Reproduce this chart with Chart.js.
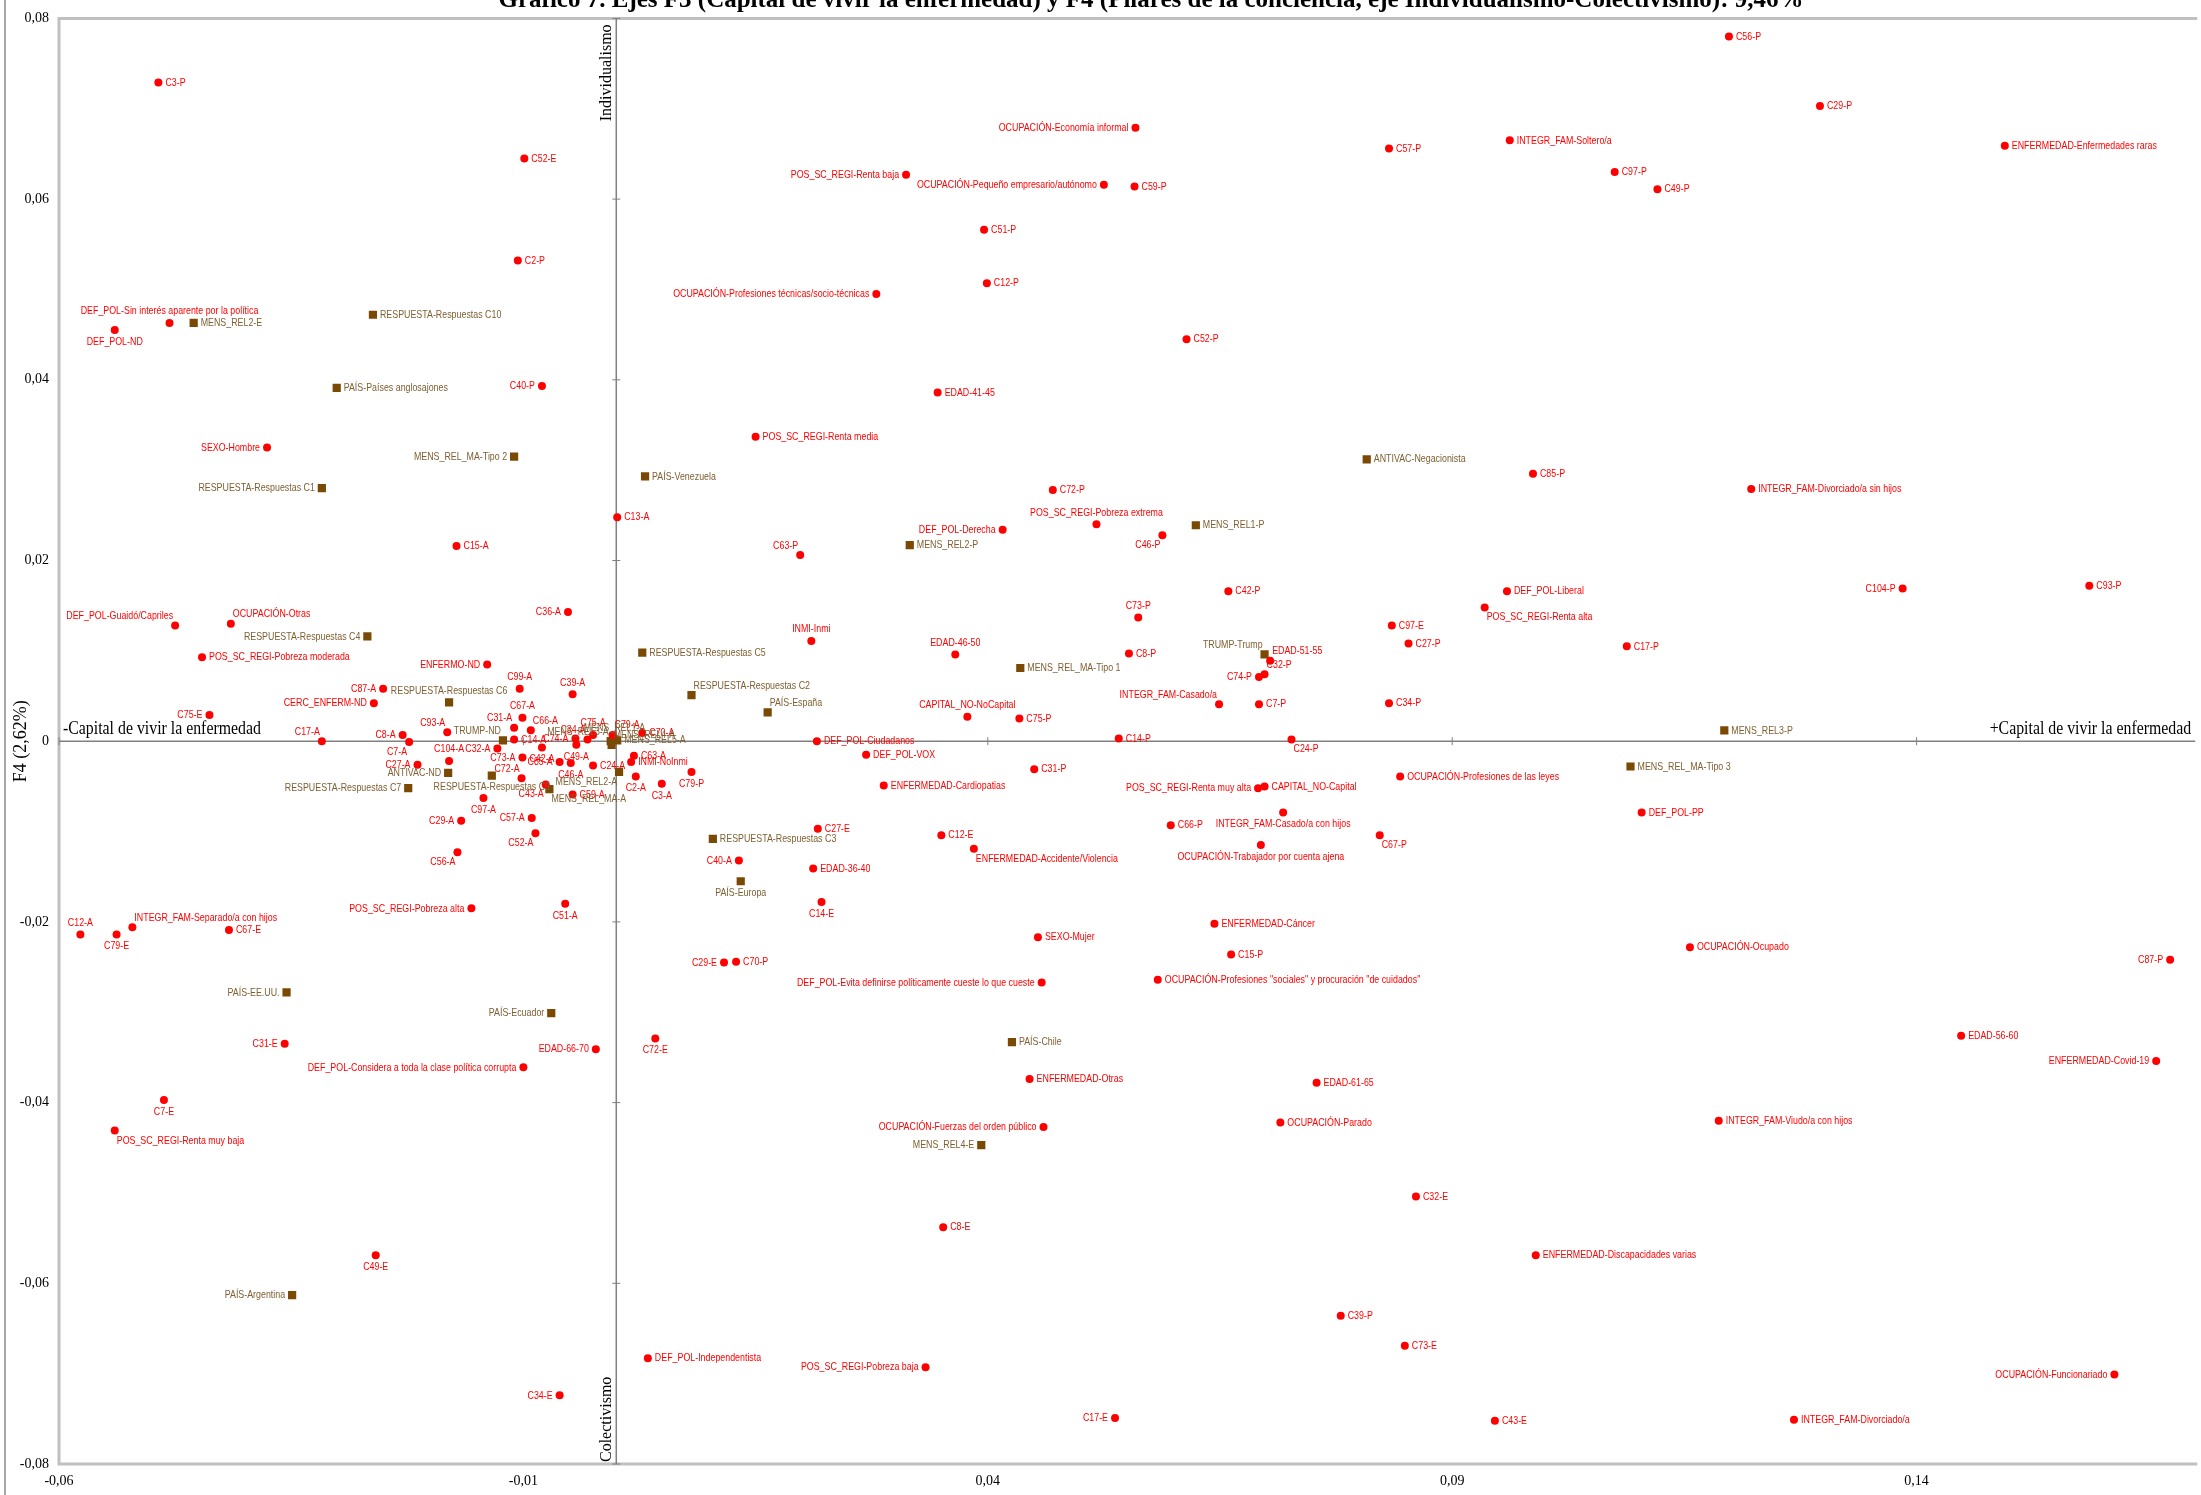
<!DOCTYPE html>
<html>
<head>
<meta charset="utf-8">
<script src="https://cdn.jsdelivr.net/npm/chart.js@4.4.1/dist/chart.umd.min.js"></script>
<style>
  html, body { margin: 0; padding: 0; background: #fff; }
  #wrap { width: 2201px; height: 1495px; }
</style>
</head>
<body>
<div id="wrap"><canvas id="chart" width="2201" height="1495"></canvas></div>
<script>
const title = 'Gráfico 7. Ejes F3 (Capital de vivir la enfermedad) y F4 (Pilares de la conciencia, eje Individualismo-Colectivismo): 9,46%';
const xTicks = [-0.06, -0.01, 0.04, 0.09, 0.14];
const yTicks = [-0.08, -0.06, -0.04, -0.02, 0, 0.02, 0.04, 0.06, 0.08];

// modalidades activas (círculos rojos)
const redNames = [
  'C3-P', 'C52-E', 'C2-P', 'DEF_POL-Sin interés aparente por la política', 'DEF_POL-ND',
  'C40-P', 'SEXO-Hombre', 'C15-A', 'C36-A', 'DEF_POL-Guaidó/Capriles',
  'OCUPACIÓN-Otras', 'POS_SC_REGI-Pobreza moderada', 'ENFERMO-ND', 'C99-A', 'C87-A',
  'CERC_ENFERM-ND', 'C75-E', 'C17-A', 'C39-A', 'C67-A',
  'C31-A', 'C66-A', 'C14-A', 'C8-A', 'C7-A',
  'C93-A', 'C104-A', 'C27-A', 'C32-A', 'C73-A',
  'C72-A', 'C43-A', 'C59-A', 'C97-A', 'C42-A',
  'C74-A', 'C49-A', 'C34-A', 'C75-A', 'C79-A',
  'C70-A', 'C85-A', 'C46-A', 'C24-A', 'C63-A',
  'INMI-NoInmi', 'C2-A', 'C3-A', 'C79-P', 'C13-A',
  'INMI-Inmi', 'EDAD-46-50', 'C73-P', 'C8-P', 'CAPITAL_NO-NoCapital',
  'C75-P', 'INTEGR_FAM-Casado/a', 'EDAD-51-55', 'C74-P', 'C32-P',
  'C7-P', 'C24-P', 'C97-E', 'C27-P', 'C34-P',
  'POS_SC_REGI-Renta alta', 'OCUPACIÓN-Profesiones de las leyes', 'POS_SC_REGI-Renta muy alta', 'CAPITAL_NO-Capital', 'INTEGR_FAM-Casado/a con hijos',
  'C67-P', 'OCUPACIÓN-Trabajador por cuenta ajena', 'C66-P', 'DEF_POL-Ciudadanos', 'C14-P',
  'DEF_POL-VOX', 'C31-P', 'ENFERMEDAD-Cardiopatias', 'C27-E', 'C12-E',
  'ENFERMEDAD-Accidente/Violencia', 'EDAD-36-40', 'C56-P', 'C29-P', 'ENFERMEDAD-Enfermedades raras',
  'OCUPACIÓN-Economía informal', 'INTEGR_FAM-Soltero/a', 'C57-P', 'C97-P', 'C49-P',
  'POS_SC_REGI-Renta baja', 'OCUPACIÓN-Pequeño empresario/autónomo', 'C59-P', 'C51-P', 'C12-P',
  'OCUPACIÓN-Profesiones técnicas/socio-técnicas', 'C52-P', 'EDAD-41-45', 'POS_SC_REGI-Renta media', 'C85-P',
  'INTEGR_FAM-Divorciado/a sin hijos', 'C72-P', 'POS_SC_REGI-Pobreza extrema', 'DEF_POL-Derecha', 'C46-P',
  'C63-P', 'C42-P', 'DEF_POL-Liberal', 'C104-P', 'C93-P',
  'C17-P', 'ENFERMEDAD-Cáncer', 'C15-P', 'OCUPACIÓN-Ocupado', 'C87-P',
  'SEXO-Mujer', 'DEF_POL-Evita definirse políticamente cueste lo que cueste', 'OCUPACIÓN-Profesiones "sociales" y procuración "de cuidados"', 'C29-E', 'C70-P',
  'EDAD-56-60', 'ENFERMEDAD-Covid-19', 'C72-E', 'EDAD-66-70', 'DEF_POL-Considera a toda la clase política corrupta',
  'ENFERMEDAD-Otras', 'EDAD-61-65', 'OCUPACIÓN-Parado', 'INTEGR_FAM-Viudo/a con hijos', 'OCUPACIÓN-Fuerzas del orden público',
  'C32-E', 'C8-E', 'ENFERMEDAD-Discapacidades varias', 'C39-P', 'C73-E',
  'DEF_POL-Independentista', 'POS_SC_REGI-Pobreza baja', 'OCUPACIÓN-Funcionariado', 'C17-E', 'C43-E',
  'INTEGR_FAM-Divorciado/a', 'C34-E', 'C49-E', 'POS_SC_REGI-Renta muy baja', 'C7-E',
  'C31-E', 'C12-A', 'C79-E', 'INTEGR_FAM-Separado/a con hijos', 'C67-E',
  'POS_SC_REGI-Pobreza alta', 'C51-A', 'C40-A', 'C14-E', 'C29-A',
  'C56-A', 'C57-A', 'C52-A', 'DEF_POL-PP'
];
const redX = [
  -0.0493, -0.0099, -0.0106, -0.0481, -0.0540,
  -0.0080, -0.0376, -0.0172, -0.0052, -0.0475,
  -0.0415, -0.0446, -0.0139, -0.0104, -0.0251,
  -0.0261, -0.0438, -0.0317, -0.0047, -0.0101,
  -0.0110, -0.0092, -0.0110, -0.0230, -0.0223,
  -0.0182, -0.0180, -0.0214, -0.0128, -0.0101,
  -0.0102, -0.0076, -0.0047, -0.0143, -0.0080,
  -0.0044, -0.0043, -0.0031, -0.0025, -0.0004,
  0.0028, -0.0061, -0.0049, -0.0025, 0.0019,
  0.0016, 0.0021, 0.0049, 0.0081, 0.0001,
  0.0210, 0.0365, 0.0562, 0.0552, 0.0378,
  0.0434, 0.0649, 0.0704, 0.0692, 0.0698,
  0.0692, 0.0727, 0.0835, 0.0853, 0.0832,
  0.0935, 0.0844, 0.0691, 0.0698, 0.0718,
  0.0822, 0.0694, 0.0597, 0.0216, 0.0541,
  0.0269, 0.0450, 0.0288, 0.0217, 0.0350,
  0.0385, 0.0212, 0.1198, 0.1296, 0.1495,
  0.0559, 0.0962, 0.0832, 0.1075, 0.1121,
  0.0312, 0.0525, 0.0558, 0.0396, 0.0399,
  0.0280, 0.0614, 0.0346, 0.0150, 0.0987,
  0.1222, 0.0470, 0.0517, 0.0416, 0.0588,
  0.0198, 0.0659, 0.0959, 0.1385, 0.1586,
  0.1088, 0.0644, 0.0662, 0.1156, 0.1673,
  0.0454, 0.0458, 0.0583, 0.0116, 0.0129,
  0.1448, 0.1658, 0.0042, -0.0022, -0.0100,
  0.0445, 0.0754, 0.0715, 0.1187, 0.0460,
  0.0861, 0.0352, 0.0990, 0.0780, 0.0849,
  0.0034, 0.0333, 0.1613, 0.0537, 0.0946,
  0.1268, -0.0061, -0.0259, -0.0540, -0.0487,
  -0.0357, -0.0577, -0.0538, -0.0521, -0.0417,
  -0.0156, -0.0055, 0.0132, 0.0221, -0.0167,
  -0.0171, -0.0091, -0.0087, 0.1104
];
const redY = [
  0.0729, 0.0645, 0.0532, 0.0463, 0.0455,
  0.0393, 0.0325, 0.0216, 0.0143, 0.0128,
  0.0130, 0.0093, 0.0085, 0.0058, 0.0058,
  0.0042, 0.0029, 0.0000, 0.0052, 0.0026,
  0.0015, 0.0012, 0.0002, 0.0007, -0.0001,
  0.0010, -0.0022, -0.0026, -0.0008, -0.0018,
  -0.0041, -0.0048, -0.0059, -0.0063, -0.0007,
  0.0003, -0.0004, 0.0002, 0.0007, 0.0007,
  0.0009, -0.0023, -0.0024, -0.0027, -0.0016,
  -0.0023, -0.0039, -0.0047, -0.0034, 0.0248,
  0.0111, 0.0096, 0.0137, 0.0097, 0.0027,
  0.0025, 0.0041, 0.0089, 0.0071, 0.0074,
  0.0041, 0.0002, 0.0128, 0.0108, 0.0042,
  0.0148, -0.0039, -0.0052, -0.0050, -0.0079,
  -0.0104, -0.0115, -0.0093, 0.0000, 0.0003,
  -0.0015, -0.0031, -0.0049, -0.0097, -0.0104,
  -0.0119, -0.0141, 0.0780, 0.0703, 0.0659,
  0.0679, 0.0665, 0.0656, 0.0630, 0.0611,
  0.0627, 0.0616, 0.0614, 0.0566, 0.0507,
  0.0495, 0.0445, 0.0386, 0.0337, 0.0296,
  0.0279, 0.0278, 0.0240, 0.0234, 0.0228,
  0.0206, 0.0166, 0.0166, 0.0169, 0.0172,
  0.0105, -0.0202, -0.0236, -0.0228, -0.0242,
  -0.0217, -0.0267, -0.0264, -0.0245, -0.0244,
  -0.0326, -0.0354, -0.0329, -0.0341, -0.0361,
  -0.0374, -0.0378, -0.0422, -0.0420, -0.0427,
  -0.0504, -0.0538, -0.0569, -0.0636, -0.0669,
  -0.0683, -0.0693, -0.0701, -0.0749, -0.0752,
  -0.0751, -0.0724, -0.0569, -0.0431, -0.0397,
  -0.0335, -0.0214, -0.0214, -0.0206, -0.0209,
  -0.0185, -0.0180, -0.0132, -0.0178, -0.0088,
  -0.0123, -0.0085, -0.0102, -0.0079
];
// lado de la etiqueta: r, l, t, b, tl, tr, bl, br
const redPos = [
  'r', 'r', 'r', 't', 'b',
  'l', 'l', 'r', 'l', 'tl',
  'tr', 'r', 'l', 't', 'l',
  'l', 'l', 'tl', 't', 't',
  'tl', 'tr', 'r', 'l', 'bl',
  'tl', 't', 'l', 'l', 'l',
  'tl', 'bl', 'r', 'b', 'b',
  'l', 'b', 'tl', 't', 'tr',
  'r', 'l', 'b', 'r', 'r',
  'r', 'b', 'b', 'b', 'r',
  't', 't', 't', 'r', 't',
  'r', 'tl', 'tr', 'l', 'tr',
  'r', 'br', 'r', 'r', 'r',
  'br', 'r', 'l', 'r', 'b',
  'br', 'b', 'r', 'r', 'r',
  'r', 'r', 'r', 'r', 'r',
  'br', 'r', 'r', 'r', 'r',
  'l', 'r', 'r', 'r', 'r',
  'l', 'l', 'r', 'r', 'r',
  'l', 'r', 'r', 'r', 'r',
  'r', 'r', 't', 'l', 'bl',
  'tl', 'r', 'r', 'l', 'r',
  'r', 'r', 'r', 'r', 'l',
  'r', 'l', 'r', 'l', 'r',
  'r', 'l', 'b', 'l', 'l',
  'r', 'r', 'r', 'r', 'l',
  'r', 'r', 'r', 'r', 'r',
  'r', 'l', 'l', 'l', 'r',
  'r', 'l', 'b', 'br', 'b',
  'l', 't', 'b', 'tr', 'r',
  'l', 'b', 'l', 'b', 'l',
  'bl', 'l', 'bl', 'r'
];

// modalidades suplementarias (cuadrados marrones)
const brownNames = [
  'MENS_REL2-E', 'RESPUESTA-Respuestas C10', 'PAÍS-Países anglosajones', 'MENS_REL_MA-Tipo 2', 'RESPUESTA-Respuestas C1',
  'RESPUESTA-Respuestas C4', 'PAÍS-Venezuela', 'MENS_REL2-P', 'ANTIVAC-Negacionista', 'MENS_REL1-P',
  'RESPUESTA-Respuestas C5', 'RESPUESTA-Respuestas C2', 'MENS_REL3-P', 'MENS_REL_MA-Tipo 3', 'RESPUESTA-Respuestas C3',
  'PAÍS-Europa', 'PAÍS-EE.UU.', 'PAÍS-Ecuador', 'PAÍS-Chile', 'MENS_REL4-E',
  'PAÍS-Argentina', 'TRUMP-Trump', 'MENS_REL_MA-Tipo 1', 'PAÍS-España', 'RESPUESTA-Respuestas C6',
  'TRUMP-ND', 'ANTIVAC-ND', 'RESPUESTA-Respuestas C9', 'RESPUESTA-Respuestas C7', 'MENS_REL1-A',
  'MENS_REL3-A', 'MENS_REL4-A', 'MENS_REL5-A', 'MENS_REL2-A', 'MENS_REL_MA-A'
];
const brownX = [
  -0.0455, -0.0262, -0.0301, -0.0110, -0.0317,
  -0.0268, 0.0031, 0.0316, 0.0808, 0.0624,
  0.0028, 0.0081, 0.1193, 0.1092, 0.0104,
  0.0134, -0.0355, -0.0070, 0.0426, 0.0393,
  -0.0349, 0.0698, 0.0435, 0.0163, -0.0180,
  -0.0122, -0.0181, -0.0134, -0.0224, -0.0002,
  -0.0006, -0.0005, 0.0001, 0.0003, -0.0072
];
const brownY = [
  0.0463, 0.0472, 0.0391, 0.0315, 0.0280,
  0.0116, 0.0293, 0.0217, 0.0312, 0.0239,
  0.0098, 0.0051, 0.0012, -0.0028, -0.0108,
  -0.0155, -0.0278, -0.0301, -0.0333, -0.0447,
  -0.0613, 0.0096, 0.0081, 0.0032, 0.0043,
  0.0001, -0.0035, -0.0038, -0.0052, 0.0002,
  0.0000, -0.0004, 0.0001, -0.0034, -0.0053
];
const brownPos = [
  'r', 'r', 'r', 'l', 'l',
  'l', 'r', 'r', 'r', 'r',
  'r', 'tr', 'r', 'r', 'r',
  'b', 'l', 'l', 'r', 'l',
  'l', 'tl', 'r', 'tr', 't',
  'tl', 'l', 'b', 'l', 't',
  'tl', 'tr', 'r', 'bl', 'br'
];

const RED = '#ff0000';
const BROWN = '#7a4a04';
const BROWN_TEXT = '#7f6033';
const LABEL_FONT = '11.5px "Liberation Sans", Arial, sans-serif';
const NARROW = 0.77;   // imita Arial Narrow
const SERIF = '"Liberation Serif", "Times New Roman", serif';

function fmt(v) {
  if (Math.abs(v) < 1e-9) return '0';
  return v.toFixed(2).replace('.', ',');
}

function drawLabels(chart, idx, names, pos, color) {
  const ctx = chart.ctx;
  const meta = chart.getDatasetMeta(idx);
  ctx.save();
  ctx.font = LABEL_FONT;
  ctx.fillStyle = color;
  meta.data.forEach((pt, i) => {
    const p = pos[i];
    let x = pt.x, y = pt.y;
    if (p === 'r') { ctx.textAlign = 'left'; ctx.textBaseline = 'middle'; x += 7; }
    else if (p === 'l') { ctx.textAlign = 'right'; ctx.textBaseline = 'middle'; x -= 7; }
    else if (p === 't') { ctx.textAlign = 'center'; ctx.textBaseline = 'bottom'; y -= 6; }
    else if (p === 'b') { ctx.textAlign = 'center'; ctx.textBaseline = 'top'; y += 6; }
    else if (p === 'tl') { ctx.textAlign = 'right'; ctx.textBaseline = 'bottom'; x -= 2; y -= 4; }
    else if (p === 'tr') { ctx.textAlign = 'left'; ctx.textBaseline = 'bottom'; x += 2; y -= 4; }
    else if (p === 'bl') { ctx.textAlign = 'right'; ctx.textBaseline = 'top'; x -= 2; y += 4; }
    else { ctx.textAlign = 'left'; ctx.textBaseline = 'top'; x += 2; y += 4; }
    ctx.save();
    ctx.translate(x, y);
    ctx.scale(NARROW, 1);
    ctx.fillText(names[i], 0, 0);
    ctx.restore();
  });
  ctx.restore();
}

function narrowText(ctx, text, x, y, sx) {
  ctx.save();
  ctx.translate(x, y);
  ctx.scale(sx, 1);
  ctx.fillText(text, 0, 0);
  ctx.restore();
}

const decor = {
  id: 'decor',
  beforeDatasetsDraw(chart) {
    const { ctx, chartArea: a, scales } = chart;
    const x0 = scales.x.getPixelForValue(0);
    const y0 = scales.y.getPixelForValue(0);
    ctx.save();
    // marco exterior y del área de trazado
    ctx.strokeStyle = '#a6a6a6';
    ctx.lineWidth = 2;
    ctx.beginPath(); ctx.moveTo(5, 0); ctx.lineTo(5, 1495); ctx.stroke();
    ctx.strokeStyle = '#c0c0c0';
    ctx.lineWidth = 3;
    ctx.beginPath();
    ctx.moveTo(a.right + 2, a.top); ctx.lineTo(a.left, a.top);
    ctx.lineTo(a.left, a.bottom); ctx.lineTo(a.right + 2, a.bottom);
    ctx.stroke();
    // ejes en cero
    ctx.strokeStyle = '#808080';
    ctx.lineWidth = 1.5;
    ctx.beginPath();
    ctx.moveTo(x0, a.top); ctx.lineTo(x0, a.bottom);
    ctx.moveTo(a.left, y0); ctx.lineTo(a.right, y0);
    ctx.stroke();
    ctx.lineWidth = 1;
    ctx.beginPath();
    yTicks.forEach(v => {
      const py = scales.y.getPixelForValue(v);
      ctx.moveTo(x0 - 4, py); ctx.lineTo(x0 + 4, py);
    });
    xTicks.forEach(v => {
      const px = scales.x.getPixelForValue(v);
      ctx.moveTo(px, y0 - 4); ctx.lineTo(px, y0 + 4);
    });
    ctx.stroke();

    // textos de los polos
    ctx.fillStyle = '#000';
    ctx.font = '18px ' + SERIF;
    ctx.textBaseline = 'alphabetic';
    ctx.textAlign = 'left';
    narrowText(ctx, '-Capital de vivir la enfermedad', a.left + 4, y0 - 7, 0.88);
    ctx.textAlign = 'right';
    narrowText(ctx, '+Capital de vivir la enfermedad', a.right - 4, y0 - 7, 0.88);

    ctx.font = '16px ' + SERIF;
    ctx.textBaseline = 'middle';
    ctx.save();
    ctx.translate(x0 - 9, a.top + 6);
    ctx.rotate(-Math.PI / 2);
    ctx.textAlign = 'right';
    ctx.fillText('Individualismo', 0, 0);
    ctx.restore();
    ctx.save();
    ctx.translate(x0 - 9, a.bottom - 2);
    ctx.rotate(-Math.PI / 2);
    ctx.textAlign = 'left';
    ctx.fillText('Colectivismo', 0, 0);
    ctx.restore();

    // título del eje vertical
    ctx.save();
    ctx.font = '18px ' + SERIF;
    ctx.translate(21, y0);
    ctx.rotate(-Math.PI / 2);
    ctx.textAlign = 'center';
    ctx.fillText('F4 (2,62%)', 0, 0);
    ctx.restore();

    // título (cortado arriba, como en el original)
    ctx.font = 'bold 25px ' + SERIF;
    ctx.textAlign = 'center';
    ctx.textBaseline = 'alphabetic';
    ctx.fillText(title, 1151, 7);
    ctx.restore();
  },
  afterDatasetsDraw(chart) {
    drawLabels(chart, 0, redNames, redPos, RED);
    drawLabels(chart, 1, brownNames, brownPos, BROWN_TEXT);
  }
};

const ctx = document.getElementById('chart').getContext('2d');
new Chart(ctx, {
  type: 'scatter',
  data: {
    datasets: [
      {
        label: 'Modalidades',
        data: redX.map((x, i) => ({ x: x, y: redY[i] })),
        pointStyle: 'circle',
        pointRadius: 4,
        pointBackgroundColor: RED,
        pointBorderWidth: 0,
        backgroundColor: RED
      },
      {
        label: 'Suplementarias',
        data: brownX.map((x, i) => ({ x: x, y: brownY[i] })),
        pointStyle: 'rect',
        pointRadius: 5.8,
        pointBackgroundColor: BROWN,
        pointBorderWidth: 0,
        backgroundColor: BROWN
      }
    ]
  },
  options: {
    responsive: false,
    animation: false,
    devicePixelRatio: 1,
    layout: { padding: { top: 15, right: 0, bottom: 0, left: 0 } },
    plugins: { legend: { display: false }, tooltip: { enabled: false } },
    scales: {
      x: {
        type: 'linear',
        min: -0.06,
        max: 0.17,
        afterBuildTicks: s => { s.ticks = xTicks.map(v => ({ value: v })); },
        afterFit: s => { s.height = 31; },
        grid: { display: false, drawTicks: false },
        border: { display: false },
        ticks: {
          callback: v => fmt(v),
          font: { family: SERIF, size: 14 },
          color: '#000',
          padding: 9,
          maxRotation: 0,
          autoSkip: false
        }
      },
      y: {
        type: 'linear',
        min: -0.08,
        max: 0.08,
        afterBuildTicks: s => { s.ticks = yTicks.map(v => ({ value: v })); },
        afterFit: s => { s.width = 59; },
        grid: { display: false, drawTicks: false },
        border: { display: false },
        ticks: {
          callback: v => fmt(v),
          font: { family: SERIF, size: 14 },
          color: '#000',
          padding: 10,
          autoSkip: false
        }
      }
    }
  },
  plugins: [decor]
});
</script>
</body>
</html>
